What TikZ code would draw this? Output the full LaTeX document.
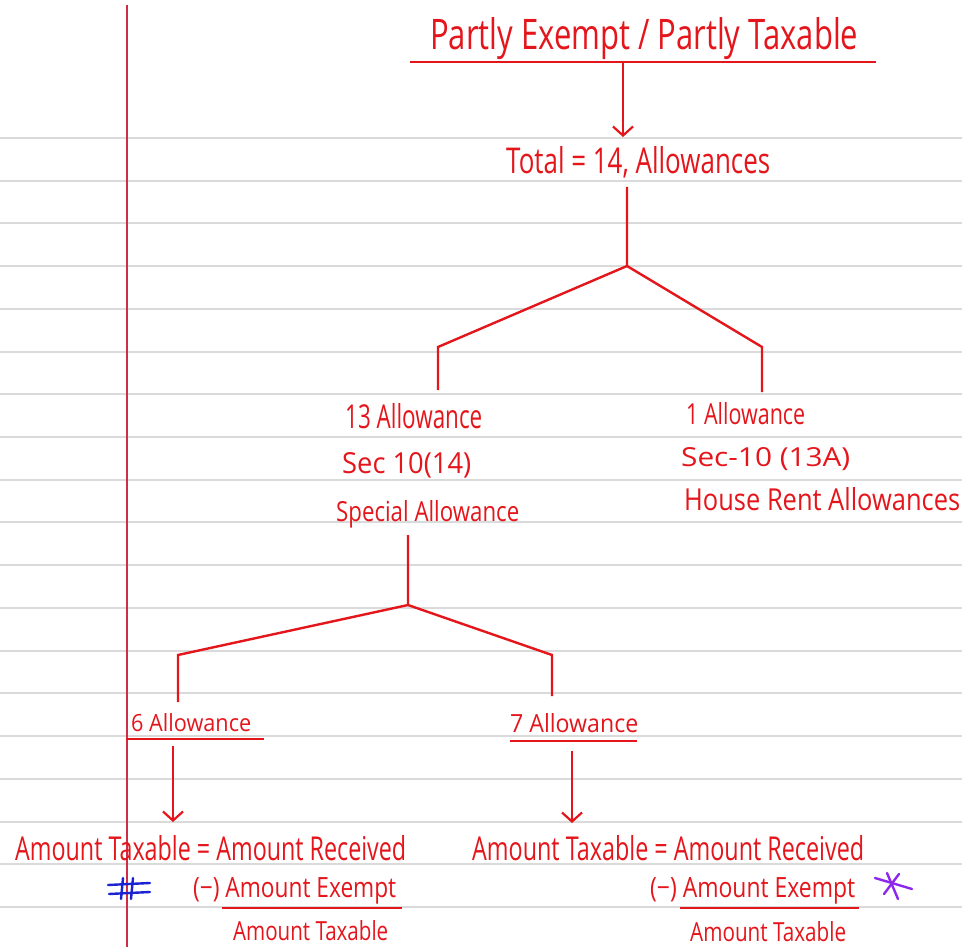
\documentclass[tikz,border=0pt]{standalone}
\usepackage{fontspec}
\setmainfont{Open Sans}
\usetikzlibrary{arrows.meta}
\definecolor{ink}{RGB}{228,22,28}
\definecolor{rule}{RGB}{218,218,218}
\definecolor{margin}{RGB}{205,45,70}
\definecolor{penblue}{RGB}{25,35,210}
\definecolor{penviolet}{RGB}{140,40,235}
% handwritten-looking label squeezed into a given width and ascender height
\newcommand\hwtext[3]{\resizebox{#1pt}{#2pt}{#3}}
\tikzset{
  label/.style={text=ink, inner sep=0pt, anchor=base west},
  wire/.style={draw=ink, line width=2.4pt, line join=miter},
  arr/.style={wire, -{Straight Barb[length=9pt,width=20pt,line width=2.2pt]}},
  uline/.style={draw=ink, line width=2.4pt},
  paperline/.style={draw=rule, line width=2pt},
}
\begin{document}
\begin{tikzpicture}[x=1pt,y=-1pt]
\useasboundingbox (0,0) rectangle (962,947);
\fill[white] (0,0) rectangle (962,947);
% ruled paper
\foreach \k in {0,...,18}
  \draw[paperline] (0,{138+42.72*\k}) -- (962,{138+42.72*\k});
\draw[margin, line width=1.4pt] (127,5) -- (127,947);

% heading
\node[label] (title) at (430,50) {\hwtext{428}{32}{Partly Exempt / Partly Taxable}};
\coordinate (tl) at (410,62);
\coordinate (tr) at (876,62);
\draw[uline] (tl) -- (tr);
\coordinate (t0) at (623,62);
\coordinate (t1) at (623,137);
\draw[arr] (t0) -- (t1);

\node[label] (total) at (506,174) {\hwtext{264}{27}{Total = 14, Allowances}};

% first split
\coordinate (a0) at (627,187);
\coordinate (a1) at (627,266);
\coordinate (aL) at (438,347);
\coordinate (aLd) at (438,390);
\coordinate (aR) at (762,347);
\coordinate (aRd) at (762,392);
\draw[wire] (a0) -- (a1) -- (aL) -- (aLd);
\draw[wire] (a1) -- (aR) -- (aRd);

\node[label] (sa1) at (345,428) {\hwtext{137}{25}{13 Allowance}};
\node[label] (sa2) at (342,473) {\hwtext{129}{21}{Sec 10(14)}};
\node[label] (sa3) at (336,521) {\hwtext{183}{21}{Special Allowance}};

\node[label] (hr1) at (686,424) {\hwtext{119}{22}{1 Allowance}};
\node[label] (hr2) at (681,466) {\hwtext{169}{19}{Sec-10 (13A)}};
\node[label] (hr3) at (684,510) {\hwtext{276}{23}{House Rent Allowances}};

% second split
\coordinate (b0) at (408,535);
\coordinate (b1) at (408,605);
\coordinate (bL) at (178,655);
\coordinate (bLd) at (178,702);
\coordinate (bR) at (552,655);
\coordinate (bRd) at (552,696);
\draw[wire] (b0) -- (b1) -- (bL) -- (bLd);
\draw[wire] (b1) -- (bR) -- (bRd);

\node[label] (six) at (131,731) {\hwtext{120}{18}{6 Allowance}};
\coordinate (sixl) at (126,739);
\coordinate (sixr) at (264,739);
\draw[uline] (sixl) -- (sixr);
\node[label] (seven) at (510,732) {\hwtext{128}{19}{7 Allowance}};
\coordinate (sevl) at (510,741);
\coordinate (sevr) at (637,741);
\draw[uline] (sevl) -- (sevr);

\coordinate (c0) at (173,746);
\coordinate (c1) at (173,822);
\draw[arr] (c0) -- (c1);
\coordinate (d0) at (572,751);
\coordinate (d1) at (572,823);
\draw[arr] (d0) -- (d1);

% left working
\node[label] (lf1) at (15,860) {\hwtext{391}{25}{Amount Taxable = Amount Received}};
\node[label] (lf2) at (193,897) {\hwtext{203}{20}{(−) Amount Exempt}};
\coordinate (lfl) at (222,908);
\coordinate (lfr) at (402,908);
\draw[uline] (lfl) -- (lfr);
\node[label] (lf3) at (233,940) {\hwtext{155}{20}{Amount Taxable}};

% right working
\node[label] (rt1) at (472,860) {\hwtext{392}{25}{Amount Taxable = Amount Received}};
\node[label] (rt2) at (650,897) {\hwtext{205}{20}{(−) Amount Exempt}};
\coordinate (rtl) at (680,908);
\coordinate (rtr) at (859,908);
\draw[uline] (rtl) -- (rtr);
\node[label] (rt3) at (690,941) {\hwtext{156}{20}{Amount Taxable}};

% pen marks
\begin{scope}[draw=penblue, line width=2.4pt, line cap=round]
  \draw (108,885) -- (150,883);
  \draw (109,894) -- (150,892);
  \draw (123,878) -- (121,899);
  \draw (133,878) -- (131,899);
\end{scope}
\begin{scope}[draw=penviolet, line width=2.4pt, line cap=round]
  \draw (875,878) -- (912,889);
  \draw (887,873) -- (898,899);
  \draw (899,874) -- (884,894);
\end{scope}
\end{tikzpicture}
\end{document}
